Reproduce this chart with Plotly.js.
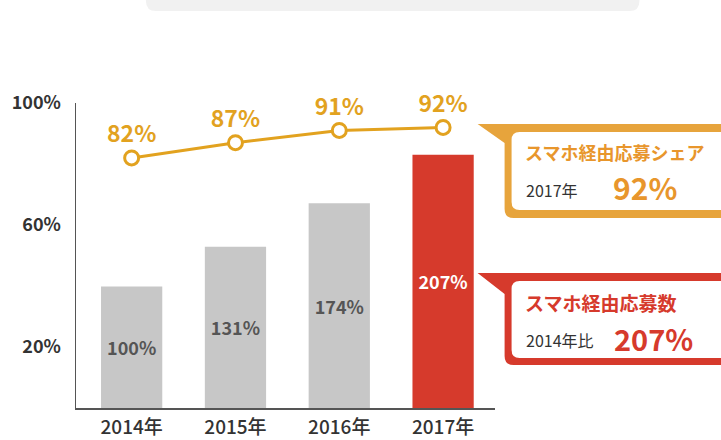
<!DOCTYPE html>
<html><head><meta charset="utf-8">
<script src="https://cdn.plot.ly/plotly-3.0.1.min.js"></script>
<style>html,body{margin:0;padding:0;background:#fff;}#chart{width:721px;height:440px;}</style>
</head><body><div id="chart"></div>
<script>
// ---- data ----
const years = ['2014年', '2015年', '2016年', '2017年'];
const shareValues = [82, 87, 91, 92];
const shareLabels = ['82%', '87%', '91%', '92%'];
const countIndex = [100, 131, 174, 207];
const barHeights = [39.8, 52.9, 67.1, 83.0];
const yTickVals = [20, 60, 100];
const yTickText = ['20%', '60%', '100%'];
const shareTitle = 'スマホ経由応募シェア';
const shareSub = '2017年';
const shareBig = '92%';
const countTitle = 'スマホ経由応募数';
const countSub = '2014年比';
const countBig = '207%';

// ---- styling ----
const FONT = '"Noto Sans CJK JP", "Noto Sans", sans-serif';
const ORANGE = '#e2a21f';
const ORANGE_BOX = '#e7a43c';
const ORANGE_TXT = '#e8962c';
const RED = '#d63a2c';
const GRAY = '#c7c7c7';
const DARK = '#333333';

const L = 76, R = 495.4, T = 103, B = 408, W = 721, H = 440;
const px = x => (x - L) / (R - L);
const py = y => (B - y) / (B - T);
function path(cmds) {
  return cmds.map(c => {
    if (c[0] === 'Z') return 'Z';
    const pts = [];
    for (let i = 1; i < c.length; i += 2) pts.push(px(c[i]).toFixed(5) + ',' + py(c[i + 1]).toFixed(5));
    return c[0] + pts.join(' ');
  }).join(' ');
}
function calloutOuter(y0, y1, tabY) {
  return path([['M', 478, y0], ['L', 745, y0], ['L', 745, y1], ['L', 514, y1], ['Q', 505, y1, 505, y1 - 9], ['L', 505, tabY], ['Z']]);
}
function innerBox(x0, y0, x1, y1, r) {
  return path([['M', x0 + r, y0], ['L', x1, y0], ['L', x1, y1], ['L', x0 + r, y1], ['Q', x0, y1, x0, y1 - r], ['L', x0, y0 + r], ['Q', x0, y0, x0 + r, y0], ['Z']]);
}
function roundedBottom(x0, y0, x1, y1, r) {
  return path([['M', x0, y0], ['L', x1, y0], ['L', x1, y1 - r], ['Q', x1, y1, x1 - r, y1], ['L', x0 + r, y1], ['Q', x0, y1, x0, y1 - r], ['Z']]);
}

const xs = years.map((_, i) => i);

const barTrace = {
  type: 'bar', x: xs, y: barHeights,
  width: 0.59,
  marker: { color: years.map((_, i) => i === years.length - 1 ? RED : GRAY), line: { width: 0 } },
  text: countIndex.map(v => v + '%'),
  textposition: 'inside', insidetextanchor: 'middle',
  textfont: { family: FONT, size: 18, weight: 600, color: years.map((_, i) => i === years.length - 1 ? '#ffffff' : '#555555') },
  hoverinfo: 'skip', showlegend: false
};

const lineTrace = {
  type: 'scatter', mode: 'lines+markers+text', x: xs, y: shareValues,
  text: shareLabels, textposition: 'top center',
  textfont: { family: FONT, size: 23, weight: 600, color: ORANGE },
  line: { color: ORANGE, width: 3 },
  marker: { size: 14, color: '#ffffff', line: { color: ORANGE, width: 3 } },
  cliponaxis: false, showlegend: false, hoverinfo: 'skip'
};

const shapes = [
  { type: 'path', xref: 'paper', yref: 'paper', layer: 'below',
    path: roundedBottom(146, -30, 640, 11, 10), fillcolor: '#f1f1f1', line: { width: 0 } },
  { type: 'path', xref: 'paper', yref: 'paper', path: calloutOuter(124, 218, 143), fillcolor: ORANGE_BOX, line: { width: 0 } },
  { type: 'path', xref: 'paper', yref: 'paper', path: innerBox(512, 132, 745, 210, 8), fillcolor: '#ffffff', line: { width: 0 } },
  { type: 'path', xref: 'paper', yref: 'paper', path: calloutOuter(273, 365, 294), fillcolor: RED, line: { width: 0 } },
  { type: 'path', xref: 'paper', yref: 'paper', path: innerBox(512, 281, 745, 358, 8), fillcolor: '#ffffff', line: { width: 0 } }
];

function ann(text, x, y, size, color, weight) {
  return { text: text, xref: 'paper', yref: 'paper', x: px(x), y: py(y), xanchor: 'left', yanchor: 'middle',
    showarrow: false, font: { family: FONT, size: size, color: color, weight: weight } };
}
const annotations = [
  ann(shareTitle, 523, 152, 18, ORANGE_TXT, 700),
  ann(shareSub, 524, 190, 16, DARK, 400),
  ann(shareBig, 612, 187, 30, ORANGE_TXT, 700),
  ann(countTitle, 523, 302, 19, RED, 700),
  ann(countSub, 524, 340, 16, DARK, 400),
  ann(countBig, 613, 338, 29, RED, 700)
];

const layout = {
  width: W, height: H,
  margin: { l: L, r: W - R, t: T, b: H - B, pad: 0 },
  paper_bgcolor: '#ffffff', plot_bgcolor: '#ffffff',
  showlegend: false,
  xaxis: { range: [-0.536, 3.5], tickvals: xs, ticktext: years, showgrid: false, zeroline: false,
    showline: true, linecolor: '#555555', linewidth: 1.5, ticks: '', fixedrange: true, ticklabelstandoff: 2,
    tickfont: { family: FONT, size: 19, color: DARK, weight: 500 } },
  yaxis: { range: [0, 100], tickvals: yTickVals, ticktext: yTickText, showgrid: false, zeroline: false,
    showline: true, linecolor: '#555555', linewidth: 1.5, ticks: '', ticklabelstandoff: 10, fixedrange: true,
    tickfont: { family: FONT, size: 18, color: DARK, weight: 700 } },
  shapes: shapes,
  annotations: annotations
};

Plotly.newPlot('chart', [barTrace, lineTrace], layout, { displayModeBar: false, staticPlot: true });
</script>
</body></html>
